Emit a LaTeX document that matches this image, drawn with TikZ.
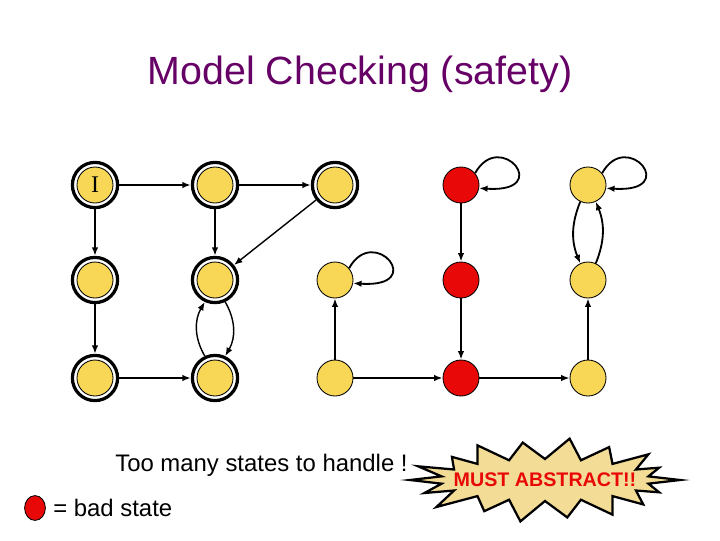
\documentclass[tikz,border=0pt]{standalone}
\usepackage{fontspec}
\setmainfont{Liberation Sans}
\newfontfamily\initfont{Liberation Serif}
\usetikzlibrary{shapes.geometric, arrows.meta, calc}

\definecolor{stateyellow}{RGB}{247,215,85}
\definecolor{badred}{RGB}{232,8,8}
\definecolor{titlepurple}{RGB}{102,0,102}
\definecolor{bursttan}{RGB}{243,221,150}

\begin{document}
\begin{tikzpicture}[
  x=0.025cm, y=0.025cm,
  >={Latex[length=6pt,width=4.6pt]},
  S/.style={circle, draw, line width=0.6pt, fill=stateyellow,
            minimum size=0.9cm, inner sep=0pt},
  Sr/.style={S, fill=badred},
  Sd/.style={circle, draw, line width=2.3pt, fill=white,
             minimum size=1.13cm, inner sep=0pt,
             path picture={\draw[line width=0.6pt, fill=stateyellow]
               (path picture bounding box.center) circle (0.45cm);}},
  arr/.style={->, line width=1.3pt},
]
\useasboundingbox (0,0) rectangle (720,-540);

%% ---- title ----
\node[font=\fontsize{28}{30}\selectfont, text=titlepurple, anchor=base]
  (title) at (360,-84) {Model Checking (safety)};

%% ---- reachable states (double circles) ----
\node[Sd, font=\initfont\fontsize{17}{17}\selectfont] (s11) at (95,-185) {I};
\node[Sd] (s12) at (215,-185) {};
\node[Sd] (s13) at (335,-185) {};
\node[Sd] (s21) at (95,-280) {};
\node[Sd] (s22) at (215,-280) {};
\node[Sd] (s31) at (95,-378) {};
\node[Sd] (s32) at (215,-378) {};

%% ---- other states ----
\node[S]  (s23) at (335,-280) {};
\node[S]  (s33) at (335,-378) {};
\node[Sr] (s14) at (461,-185) {};
\node[Sr] (s24) at (461,-280) {};
\node[Sr] (s34) at (461,-378) {};
\node[S]  (s15) at (588,-185) {};
\node[S]  (s25) at (588,-280) {};
\node[S]  (s35) at (588,-378) {};

%% ---- transitions ----
\draw[arr] (s11) -- (s12);
\draw[arr] (s12) -- (s13);
\draw[arr] (s11) -- (s21);
\draw[arr] (s21) -- (s31);
\draw[arr] (s31) -- (s32);
\draw[arr] (s12) -- (s22);
\draw[arr, line width=1pt] (s13) -- (s22);
\draw[arr, line width=1pt] (s32.115) to[bend left=30] (s22.245);
\draw[arr, line width=1pt] (s22.295) to[bend left=30] (s32.65);

\draw[arr] (s33) -- (s23);
\draw[arr] (s33) -- (s34);
\draw[arr] (s34) -- (s35);
\draw[arr] (s14) -- (s24);
\draw[arr] (s24) -- (s34);
\draw[arr] (s35) -- (s25);
\draw[arr] (s15.245) to[bend right=22] (s25.115);
\draw[arr] (s25.65) to[bend right=22] (s15.295);

% self loops
\draw[arr] (s23.40) .. controls +(25,45) and +(75,-5) .. (s23.-10);
\draw[arr] (s14.40) .. controls +(25,45) and +(75,-5) .. (s14.-10);
\draw[arr] (s15.40) .. controls +(25,45) and +(75,-5) .. (s15.-10);

%% ---- bottom texts ----
\node[font=\fontsize{17}{20}\selectfont, anchor=base west, inner sep=0pt]
  (many) at (115,-471) {Too many states to handle !};
\node[Sr, ellipse, minimum width=0.52cm, minimum height=0.62cm] (key) at (35,-508) {};
\node[font=\fontsize{17}{20}\selectfont, anchor=base west, inner sep=0pt]
  (keytxt) at (53,-516) {= bad state};

% starburst
\coordinate (bc) at (545,-480);
\draw[line width=1.6pt, fill=bursttan, line join=miter]
  ($(bc)+(135,0)$)
  \foreach \t/\f in {20/0.9, 40/1.0, 60/0.95, 80/1.05, 100/0.95, 120/1.0,
                     140/0.9, 160/1.0, 180/1.0, 200/0.95, 220/1.05,
                     240/0.9, 260/1.05, 280/0.95, 300/1.0, 320/0.95, 340/0.9}
    { -- ($(bc)+({105*cos(\t-10)},{21*sin(\t-10)})$)
      -- ($(bc)+({135*\f*cos(\t)},{40*\f*sin(\t)})$) }
  -- ($(bc)+({105*cos(350)},{21*sin(350)})$) -- cycle;
\node[text=badred, font=\fontsize{14}{14}\selectfont\bfseries, inner sep=0pt]
  (burst) at (bc) {MUST ABSTRACT!!};

\end{tikzpicture}
\end{document}
